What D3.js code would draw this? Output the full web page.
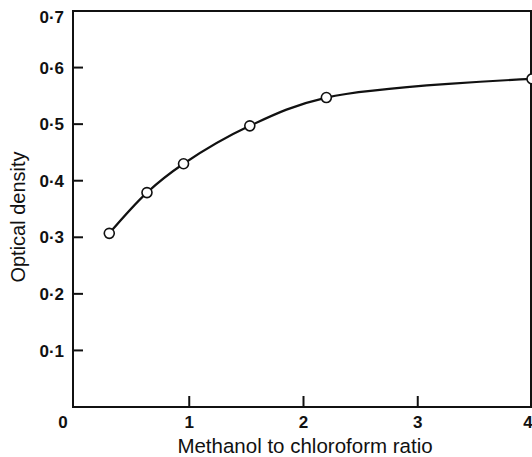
<!DOCTYPE html>
<html>
<head>
<meta charset="utf-8">
<script src="https://cdn.jsdelivr.net/npm/d3@7"></script>
<style>
  html, body { margin: 0; padding: 0; background: #fff; }
  svg { display: block; }
</style>
</head>
<body>
<svg id="chart" width="532" height="457"></svg>
<script>
// Data
const ratio = [0.3, 0.63, 0.95, 1.53, 2.2, 4.0];
const opticalDensity = [0.307, 0.379, 0.430, 0.497, 0.547, 0.580];
const xTicks = [1, 2, 3, 4];
const yTicks = [0.1, 0.2, 0.3, 0.4, 0.5, 0.6, 0.7];
const yTickLabels = ["0·1", "0·2", "0·3", "0·4", "0·5", "0·6", "0·7"];
const xTitle = "Methanol to chloroform ratio";
const yTitle = "Optical density";

(function () {
const svg = d3.select("#chart");
const font = "'Liberation Sans', Arial, Helvetica, sans-serif";

const x = d3.scaleLinear().domain([0, 4]).range([75, 532]);
const y = d3.scaleLinear().domain([0, 0.7]).range([407, 11]);

const pLeft = 73, pRight = 531, pTop = y(0.7), pBottom = y(0);

// frame
svg.append("path")
  .attr("d", `M${pLeft},${pTop}H${pRight}V${pBottom}H${pLeft}Z`)
  .attr("fill", "none").attr("stroke", "#111").attr("stroke-width", 2);

// y ticks (inward)
svg.selectAll(".ytick").data(yTicks.slice(0, 6)).enter().append("line")
  .attr("x1", pLeft).attr("x2", pLeft + 10)
  .attr("y1", d => y(d)).attr("y2", d => y(d))
  .attr("stroke", "#111").attr("stroke-width", 2);

svg.selectAll(".ylab").data(yTicks).enter().append("text")
  .attr("x", 64).attr("y", d => y(d) + (d === 0.7 ? 6 : 0))
  .attr("dy", "0.36em")
  .attr("text-anchor", "end")
  .attr("font-family", font).attr("font-weight", "bold").attr("font-size", 17)
  .attr("fill", "#111")
  .text((d, i) => yTickLabels[i]);

// x ticks (inward)
svg.selectAll(".xtick").data(xTicks.slice(0, 3)).enter().append("line")
  .attr("x1", d => x(d)).attr("x2", d => x(d))
  .attr("y1", pBottom).attr("y2", pBottom - 11)
  .attr("stroke", "#111").attr("stroke-width", 2);

svg.selectAll(".xlab").data(xTicks).enter().append("text")
  .attr("x", d => x(d) + (d === 4 ? -4 : 0)).attr("y", 428)
  .attr("text-anchor", "middle")
  .attr("font-family", font).attr("font-weight", "bold").attr("font-size", 17)
  .attr("fill", "#111")
  .text(d => d);

svg.append("text")
  .attr("x", 63).attr("y", 428)
  .attr("text-anchor", "middle")
  .attr("font-family", font).attr("font-weight", "bold").attr("font-size", 17)
  .attr("fill", "#111")
  .text("0");

// titles
svg.append("text")
  .attr("x", 305).attr("y", 453)
  .attr("text-anchor", "middle")
  .attr("font-family", font).attr("font-size", 20.5)
  .attr("fill", "#111")
  .text(xTitle);

svg.append("text")
  .attr("transform", "translate(25,217) rotate(-90)")
  .attr("text-anchor", "middle")
  .attr("font-family", font).attr("font-size", 20)
  .attr("fill", "#111")
  .text(yTitle);

// curve
const pts = ratio.map((r, i) => [r, opticalDensity[i]]);
const line = d3.line().x(d => x(d[0])).y(d => y(d[1])).curve(d3.curveCatmullRom.alpha(0.5));
svg.append("path")
  .attr("d", line(pts))
  .attr("fill", "none").attr("stroke", "#111").attr("stroke-width", 2.2);

svg.selectAll(".pt").data(pts).enter().append("circle")
  .attr("cx", d => x(d[0])).attr("cy", d => y(d[1])).attr("r", 5)
  .attr("fill", "#fff").attr("stroke", "#111").attr("stroke-width", 1.6);
})();
</script>
</body>
</html>
